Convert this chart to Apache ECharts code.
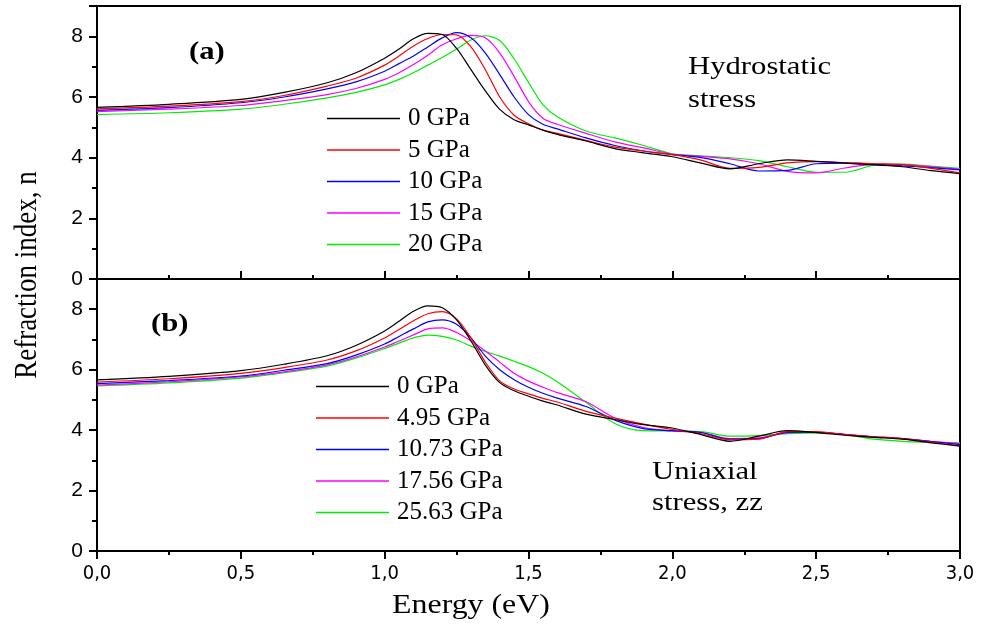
<!DOCTYPE html>
<html>
<head>
<meta charset="utf-8">
<script src="https://cdn.jsdelivr.net/npm/echarts@6/dist/echarts.min.js"></script>
<style>
  html, body { margin: 0; padding: 0; background: #fff; }
  #chart { width: 981px; height: 635px; }
</style>
</head>
<body>
<div id="chart"></div>
<script>
// shared energy grid (eV)
const energy = [0, 0.25, 0.5, 0.65, 0.8, 0.9, 1.0, 1.05, 1.1, 1.15, 1.2, 1.25, 1.3, 1.35, 1.4, 1.45, 1.5,
  1.55, 1.6, 1.7, 1.8, 1.9, 2.0, 2.1, 2.2, 2.3, 2.4, 2.5, 2.6, 2.7, 2.8, 2.9, 3.0];

// (a) hydrostatic stress
const hydroNames = ['0 GPa', '5 GPa', '10 GPa', '15 GPa', '20 GPa'];
const hydro0 = [5.66, 5.76, 5.92, 6.15, 6.47, 6.80, 7.28, 7.58, 7.92, 8.10, 8.06, 7.60, 6.90, 6.20, 5.59, 5.25, 5.08,
  4.91, 4.77, 4.55, 4.30, 4.16, 4.03, 3.82, 3.63, 3.80, 3.93, 3.88, 3.82, 3.76, 3.70, 3.57, 3.47];
const hydro5 = [5.61, 5.70, 5.85, 6.05, 6.36, 6.62, 7.05, 7.35, 7.68, 7.93, 8.06, 8.05, 7.65, 6.90, 6.00, 5.40, 5.12,
  4.91, 4.80, 4.57, 4.35, 4.22, 4.10, 3.92, 3.65, 3.68, 3.83, 3.87, 3.84, 3.80, 3.77, 3.65, 3.50];
const hydro10 = [5.56, 5.65, 5.81, 6.00, 6.27, 6.50, 6.85, 7.10, 7.35, 7.65, 7.95, 8.12, 7.95, 7.45, 6.74, 6.00, 5.42,
  5.10, 4.95, 4.65, 4.40, 4.22, 4.10, 4.00, 3.80, 3.56, 3.58, 3.80, 3.82, 3.79, 3.73, 3.67, 3.60];
const hydro15 = [5.52, 5.60, 5.72, 5.88, 6.08, 6.28, 6.58, 6.80, 7.07, 7.38, 7.72, 7.92, 8.03, 7.95, 7.45, 6.68, 5.85,
  5.30, 5.10, 4.80, 4.52, 4.32, 4.12, 4.04, 3.96, 3.80, 3.55, 3.50, 3.66, 3.78, 3.77, 3.70, 3.62];
const hydro20 = [5.42, 5.48, 5.60, 5.76, 5.97, 6.15, 6.40, 6.58, 6.80, 7.05, 7.30, 7.58, 7.88, 8.02, 7.86, 7.26, 6.48,
  5.75, 5.35, 4.88, 4.65, 4.40, 4.13, 4.06, 4.00, 3.90, 3.70, 3.52, 3.52, 3.75, 3.79, 3.72, 3.65];

// (b) uniaxial stress, zz
const uniNames = ['0 GPa', '4.95 GPa', '10.73 GPa', '17.56 GPa', '25.63 GPa'];
const uni0 = [5.66, 5.78, 5.97, 6.18, 6.46, 6.80, 7.28, 7.60, 7.93, 8.11, 8.05, 7.65, 6.95, 6.15, 5.57, 5.30, 5.12,
  4.96, 4.83, 4.53, 4.35, 4.18, 4.07, 3.85, 3.63, 3.80, 3.98, 3.92, 3.83, 3.76, 3.70, 3.58, 3.47];
const uni495 = [5.59, 5.70, 5.88, 6.07, 6.32, 6.62, 7.05, 7.33, 7.62, 7.85, 7.92, 7.68, 7.05, 6.25, 5.63, 5.36, 5.20,
  5.05, 4.93, 4.62, 4.40, 4.20, 4.02, 3.88, 3.68, 3.70, 3.95, 3.95, 3.85, 3.78, 3.72, 3.60, 3.48];
const uni1073 = [5.54, 5.64, 5.79, 5.98, 6.20, 6.48, 6.85, 7.10, 7.35, 7.58, 7.65, 7.50, 7.05, 6.45, 6.00, 5.67, 5.42,
  5.22, 5.06, 4.78, 4.33, 4.05, 3.98, 3.92, 3.70, 3.72, 3.92, 3.93, 3.85, 3.78, 3.72, 3.62, 3.52];
const uni1756 = [5.49, 5.60, 5.76, 5.93, 6.16, 6.42, 6.75, 6.95, 7.15, 7.35, 7.38, 7.23, 6.95, 6.62, 6.25, 5.88, 5.62,
  5.42, 5.24, 4.94, 4.40, 4.08, 3.97, 3.92, 3.72, 3.74, 3.92, 3.93, 3.86, 3.78, 3.72, 3.63, 3.55];
const uni2563 = [5.46, 5.56, 5.72, 5.90, 6.12, 6.38, 6.70, 6.88, 7.05, 7.14, 7.10, 6.98, 6.78, 6.60, 6.45, 6.28, 6.10,
  5.88, 5.60, 4.92, 4.22, 3.98, 3.97, 3.95, 3.80, 3.82, 3.88, 3.91, 3.85, 3.70, 3.63, 3.60, 3.58];

const colors = ['#000000', '#ff0000', '#0000ff', '#ff00ff', '#00ee00'];
const hydroVals = [hydro0, hydro5, hydro10, hydro15, hydro20];
const uniVals = [uni0, uni495, uni1073, uni1756, uni2563];

const chart = echarts.init(document.getElementById('chart'));

function pairs(vals) {
  return energy.map((e, i) => [e, vals[i]]);
}

function makeSeries(names, vals, idx) {
  return names.map((name, i) => ({
    name: name,
    type: 'line',
    xAxisIndex: idx,
    yAxisIndex: idx,
    data: pairs(vals[i]),
    symbol: 'none',
    smooth: 0.3,
    lineStyle: { color: colors[i], width: 1.2 },
    itemStyle: { color: colors[i] },
    z: 10 - i
  }));
}

function xAxis(idx, bottom) {
  return {
    type: 'value', gridIndex: idx, min: 0, max: 3, interval: 0.5,
    axisLine: { lineStyle: { color: '#000', width: 2 } },
    axisTick: { show: true, inside: !bottom, length: 8, lineStyle: { color: '#000', width: 2 } },
    minorTick: { show: true, splitNumber: 2, length: 4, lineStyle: { color: '#000', width: 2 } },
    splitLine: { show: false },
    axisLabel: {
      show: bottom, margin: 13, fontSize: 20, color: '#000',
      fontFamily: "'Liberation Sans Narrow', 'DejaVu Sans Condensed', sans-serif",
      formatter: v => v.toFixed(1).replace('.', ',')
    }
  };
}

function yAxis(idx) {
  return {
    type: 'value', gridIndex: idx, min: 0, max: 9, interval: 2,
    axisLine: { show: true, lineStyle: { color: '#000', width: 2 } },
    axisTick: { show: true, length: 8, lineStyle: { color: '#000', width: 2 } },
    minorTick: { show: true, splitNumber: 2, length: 5, lineStyle: { color: '#000', width: 2 } },
    splitLine: { show: false },
    axisLabel: {
      margin: 14, fontSize: 21, color: '#000', fontFamily: "'Liberation Sans', Arial, sans-serif",
      showMaxLabel: false
    }
  };
}

function legend(names, left, top) {
  return {
    data: names, orient: 'vertical', left: left, top: top,
    icon: 'rect', itemWidth: 73, itemHeight: 1.5, itemGap: 6.5, selectedMode: false,
    textStyle: {
      fontSize: 25, lineHeight: 22, padding: [0, 0, 0, 3],
      fontFamily: "'Liberation Serif', 'Times New Roman', serif", color: '#000'
    }
  };
}

function label(text, x, y, size, bold) {
  return {
    type: 'text', x: x, y: y, scaleX: 1.18,
    style: {
      text: text, fill: '#000', fontSize: size, fontWeight: bold ? 'bold' : 'normal',
      fontFamily: "'Liberation Serif', 'Times New Roman', serif", align: 'left', verticalAlign: 'middle'
    }
  };
}

chart.setOption({
  animation: false,
  backgroundColor: '#fff',
  grid: [
    { left: 97, right: 21, top: 6, height: 273, show: true, borderColor: '#000', borderWidth: 2 },
    { left: 97, right: 21, top: 279, height: 272, show: true, borderColor: '#000', borderWidth: 2 }
  ],
  xAxis: [xAxis(0, false), xAxis(1, true)],
  yAxis: [yAxis(0), yAxis(1)],
  legend: [legend(hydroNames, 322, 101), legend(uniNames, 311, 369)],
  series: makeSeries(hydroNames, hydroVals, 0).concat(makeSeries(uniNames, uniVals, 1)),
  graphic: [
    label('(a)', 189, 52, 26, true),
    label('Hydrostatic', 688, 67, 26, false),
    label('stress', 688, 100, 26, false),
    label('(b)', 151, 324, 26, true),
    label('Uniaxial', 652, 472, 26, false),
    label('stress, zz', 652, 503, 26, false),
    {
      type: 'text', x: 471, y: 606, scaleX: 1.18,
      style: {
        text: 'Energy (eV)', fill: '#000', fontSize: 27,
        fontFamily: "'Liberation Serif', 'Times New Roman', serif", align: 'center', verticalAlign: 'middle'
      }
    },
    {
      type: 'text', x: 28, y: 275, rotation: Math.PI / 2, scaleY: 1.15,
      style: {
        text: 'Refraction index, n', fill: '#000', fontSize: 27,
        fontFamily: "'Liberation Serif', 'Times New Roman', serif", align: 'center', verticalAlign: 'middle'
      }
    }
  ]
});
</script>
</body>
</html>
